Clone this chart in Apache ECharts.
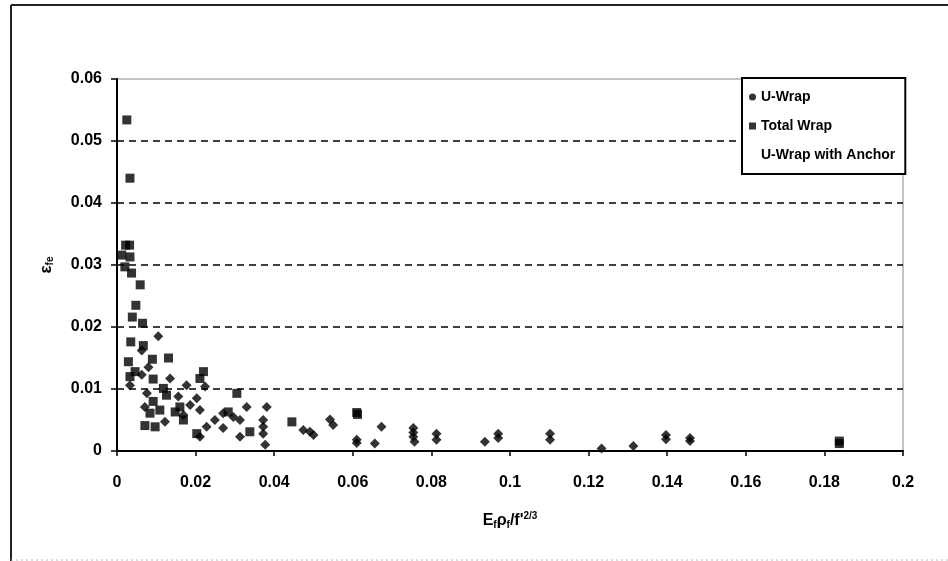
<!DOCTYPE html>
<html>
<head>
<meta charset="utf-8">
<script src="https://cdn.jsdelivr.net/npm/echarts@6/dist/echarts.min.js"></script>
<style>
  html, body { margin: 0; padding: 0; background: #fff; }
  #chart { width: 948px; height: 561px; }
</style>
</head>
<body>
<div id="chart"></div>
<script>
// [x, y] pairs
const uWrap = [
  [0.0105, 0.0185], [0.0063, 0.0162], [0.0080, 0.0135], [0.0063, 0.0123], [0.0135, 0.0117],
  [0.0033, 0.0106], [0.0177, 0.0106], [0.0076, 0.0093], [0.0156, 0.0088], [0.0203, 0.0085],
  [0.0224, 0.0104], [0.0186, 0.0074], [0.0071, 0.0071], [0.0211, 0.0066], [0.0381, 0.0071],
  [0.0330, 0.0071], [0.0270, 0.0061], [0.0169, 0.0058], [0.0296, 0.0055], [0.0313, 0.0050],
  [0.0372, 0.0050], [0.0249, 0.0050], [0.0122, 0.0047], [0.0270, 0.0037], [0.0372, 0.0039],
  [0.0228, 0.0039], [0.0211, 0.0023], [0.0313, 0.0023], [0.0372, 0.0028], [0.0377, 0.0010],
  [0.0474, 0.0034], [0.0491, 0.0031], [0.0500, 0.0026], [0.0542, 0.0051], [0.0550, 0.0042],
  [0.0610, 0.0018], [0.0610, 0.0013], [0.0656, 0.0012], [0.0673, 0.0039],
  [0.0754, 0.0037], [0.0754, 0.0030], [0.0754, 0.0023], [0.0757, 0.0015],
  [0.0813, 0.0028], [0.0813, 0.0018], [0.0936, 0.0015], [0.0970, 0.0028], [0.0970, 0.0021],
  [0.1102, 0.0028], [0.1102, 0.0018], [0.1233, 0.0004], [0.1314, 0.0008],
  [0.1397, 0.0026], [0.1397, 0.0019], [0.1458, 0.0021], [0.1458, 0.0016]
]

const totalWrap = [
  [0.0025, 0.0534], [0.0033, 0.0440], [0.0022, 0.0332], [0.0032, 0.0332], [0.0012, 0.0316],
  [0.0033, 0.0313], [0.0020, 0.0297], [0.0037, 0.0287], [0.0059, 0.0268], [0.0048, 0.0235],
  [0.0039, 0.0216], [0.0065, 0.0206], [0.0035, 0.0176], [0.0067, 0.0170], [0.0090, 0.0148],
  [0.0131, 0.0150], [0.0029, 0.0144], [0.0046, 0.0128], [0.0033, 0.0120], [0.0092, 0.0116],
  [0.0211, 0.0117], [0.0220, 0.0128], [0.0118, 0.0101], [0.0305, 0.0093], [0.0126, 0.0090],
  [0.0092, 0.0080], [0.0160, 0.0071], [0.0109, 0.0066], [0.0148, 0.0063], [0.0283, 0.0063],
  [0.0084, 0.0061], [0.0169, 0.0050], [0.0445, 0.0047], [0.0071, 0.0041], [0.0097, 0.0039],
  [0.0338, 0.0031], [0.0203, 0.0028], [0.0610, 0.0062], [0.0612, 0.0059],
  [0.1838, 0.0012], [0.1838, 0.0016]
]

const uWrapAnchor = []

const seriesNames = ["U-Wrap", "Total Wrap", "U-Wrap with Anchor"]

const font = "Liberation Sans, Arial, sans-serif"
const ink = "#000"

function tickText(v) {
  return String(Number(v.toFixed(2)))
}

const chart = echarts.init(document.getElementById("chart"))

chart.setOption({
  animation: false,
  backgroundColor: "#fff",
  grid: {
    left: 117,
    right: 45,
    top: 79,
    bottom: 110,
    show: true,
    borderColor: "#888",
    borderWidth: 1,
  },
  xAxis: {
    type: "value",
    min: 0,
    max: 0.2,
    interval: 0.02,
    name: "{e|E}{s|f}{e|ρ}{s|f}{e|/f'}{p|2/3}",
    nameLocation: "middle",
    nameGap: 60,
    nameTextStyle: {
      rich: {
        e: {fontFamily: font, fontSize: 16, color: ink, fontWeight: "bold"},
        s: {fontFamily: font, fontSize: 10, color: ink, fontWeight: "bold", padding: [8, 0, 0, 0]},
        p: {fontFamily: font, fontSize: 10, color: ink, fontWeight: "bold", padding: [0, 0, 10, 0]},
      },
    },
    axisLine: {lineStyle: {color: "#000", width: 2}},
    axisTick: {length: 5, lineStyle: {color: "#000", width: 1.5}},
    axisLabel: {
      margin: 24,
      fontFamily: font,
      fontSize: 16,
      fontWeight: "bold",
      color: ink,
      formatter: tickText,
    },
    splitLine: {show: false},
  },
  yAxis: {
    type: "value",
    min: 0,
    max: 0.06,
    interval: 0.01,
    name: "{e|ε}{s|fe}",
    nameLocation: "middle",
    nameGap: 62,
    nameRotate: 90,
    nameTextStyle: {
      rich: {
        e: {fontFamily: font, fontSize: 17, color: ink, fontWeight: "bold"},
        s: {fontFamily: font, fontSize: 10, color: ink, fontWeight: "bold", padding: [8, 0, 0, 0]},
      },
    },
    axisLine: {show: true, lineStyle: {color: "#000", width: 2}},
    axisTick: {show: true, length: 6, lineStyle: {color: "#000", width: 1.5}},
    axisLabel: {
      margin: 15,
      fontFamily: font,
      fontSize: 16,
      fontWeight: "bold",
      color: ink,
      formatter: tickText,
    },
    splitLine: {
      show: true,
      showMinLine: false,
      showMaxLine: false,
      lineStyle: {color: "#000", width: 1.5, type: [7, 5]},
    },
  },
  legend: {
    orient: "vertical",
    left: 742,
    top: 78,
    padding: [12, 10, 12, 7],
    itemGap: 15,
    itemWidth: 7,
    itemHeight: 7,
    borderColor: "#000",
    borderWidth: 2,
    backgroundColor: "#fff",
    textStyle: {fontFamily: font, fontSize: 14, color: ink, fontWeight: "bold"},
    data: [
      {name: seriesNames[0], icon: "circle"},
      {name: seriesNames[1], icon: "rect"},
      {name: seriesNames[2], icon: "rect", itemStyle: {opacity: 0}},
    ],
  },
  graphic: [
    {type: "line", shape: {x1: 11, y1: 5, x2: 948, y2: 5}, style: {stroke: "#222", lineWidth: 2}},
    {type: "line", shape: {x1: 11, y1: 5, x2: 11, y2: 561}, style: {stroke: "#222", lineWidth: 2}},
    {type: "line", shape: {x1: 11, y1: 560, x2: 948, y2: 560}, style: {stroke: "#bbb", lineWidth: 1, lineDash: [2, 3]}},
  ],
  series: [
    {
      name: seriesNames[0],
      type: "scatter",
      data: uWrap,
      symbol: "diamond",
      symbolSize: 10,
      itemStyle: {color: "#000"},
    },
    {
      name: seriesNames[1],
      type: "scatter",
      data: totalWrap,
      symbol: "rect",
      symbolSize: 9,
      itemStyle: {color: "#000"},
    },
    {
      name: seriesNames[2],
      type: "scatter",
      data: uWrapAnchor,
      symbol: "rect",
      symbolSize: 9,
      itemStyle: {color: "#fff"},
    },
  ],
})
</script>
</body>
</html>
